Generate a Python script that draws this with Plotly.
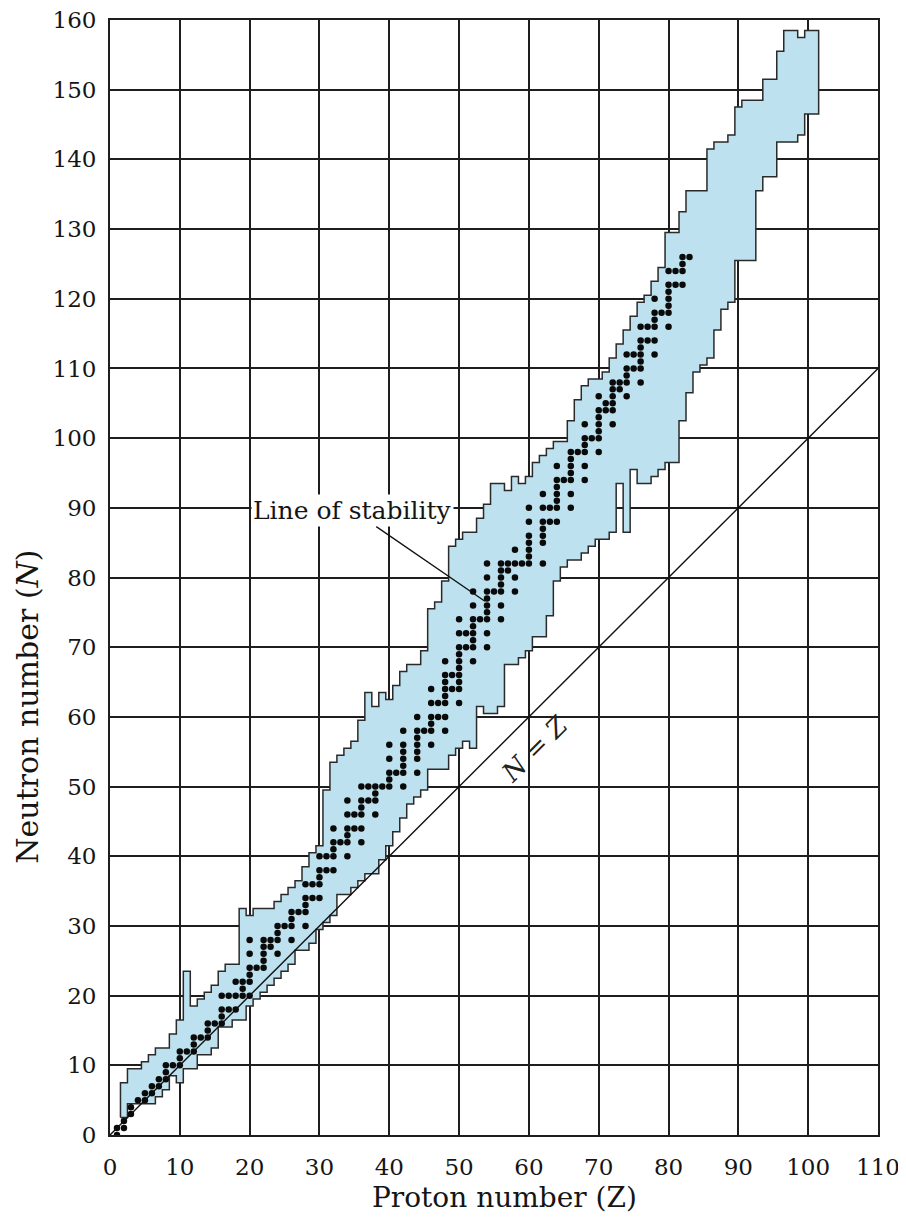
import plotly.graph_objects as go

# ---------------- data ----------------
# proton numbers of the band columns (region of known nuclei)
band_Z = list(range(2, 102))
# heaviest known neutron number for each Z column
band_Nmax = [7, 9, 9, 10, 11, 12, 12, 14, 16, 23,          # Z 2-11
             18, 19, 20, 21, 23, 24, 24, 32, 31, 32,       # Z 12-21
             32, 32, 33, 34, 35, 36, 38, 40, 41, 49,       # Z 22-31
             53, 54, 55, 56, 59, 63, 61, 63, 62, 64,       # Z 32-41
             66, 67, 67, 69, 75, 76, 79, 84, 85, 86,       # Z 42-51
             86, 88, 90, 93, 93, 92, 94, 93, 94, 96,       # Z 52-61
             97, 98, 99, 99, 102, 105, 107, 108, 108, 109,  # Z 62-71
             111, 113, 115, 117, 119, 120, 122, 124, 129, 129,  # Z 72-81
             132, 135, 135, 135, 141, 142, 142, 143, 147, 148,  # Z 82-91
             148, 148, 151, 151, 155, 158, 158, 157, 158, 158]  # Z 92-101
# lightest known neutron number for each Z column
band_Nmin = [3, 5, 5, 5, 5, 6, 7, 9, 8, 10,                # Z 2-11
             10, 12, 12, 13, 16, 16, 17, 17, 19, 20,       # Z 12-21
             21, 22, 23, 24, 25, 27, 27, 28, 30, 31,       # Z 22-31
             32, 35, 35, 36, 37, 38, 38, 40, 42, 44,       # Z 32-41
             46, 48, 49, 50, 53, 53, 53, 55, 56, 57,       # Z 42-51
             56, 62, 61, 61, 62, 68, 68, 69, 70, 72,       # Z 52-61
             72, 75, 80, 82, 83, 83, 84, 85, 86, 86,       # Z 62-71
             87, 94, 87, 96, 94, 94, 95, 96, 97, 97,       # Z 72-81
             103, 107, 110, 111, 112, 116, 119, 120, 126, 126,  # Z 82-91
             126, 136, 138, 138, 143, 143, 143, 144, 147, 147]  # Z 92-101

# stable nuclei (black dots): proton number and the neutron numbers of its stable isotopes
stable_Z = list(range(1, 84))
stable_N = [
    [0, 1], [1, 2], [3, 4], [5], [5, 6], [6, 7], [7, 8], [8, 9, 10], [10], [10, 11, 12],
    [12], [12, 13, 14], [14], [14, 15, 16], [16], [16, 17, 18, 20], [18, 20], [18, 20, 22],
    [20, 21, 22], [20, 22, 23, 24, 26, 28], [24], [24, 25, 26, 27, 28], [27, 28],
    [26, 28, 29, 30], [30], [28, 30, 31, 32], [32], [30, 32, 33, 34, 36], [34, 36],
    [34, 36, 37, 38, 40], [38, 40], [38, 40, 41, 42, 44], [42], [40, 42, 43, 44, 46, 48],
    [44, 46], [42, 44, 46, 47, 48, 50], [48, 50], [46, 48, 49, 50], [50],
    [50, 51, 52, 54, 56], [52], [50, 52, 53, 54, 55, 56, 58], [],
    [52, 54, 55, 56, 57, 58, 60], [58], [56, 58, 59, 60, 62, 64], [60, 62],
    [58, 60, 62, 63, 64, 65, 66, 68], [64, 66], [62, 64, 65, 66, 67, 68, 69, 70, 72, 74],
    [70, 72], [68, 70, 71, 72, 73, 74, 76, 78], [74], [70, 72, 74, 75, 76, 77, 78, 80, 82],
    [78], [74, 76, 78, 79, 80, 81, 82], [81, 82], [78, 80, 82, 84], [82],
    [82, 83, 84, 85, 86, 88, 90], [], [82, 85, 86, 87, 88, 90, 92], [88, 90],
    [88, 90, 91, 92, 93, 94, 96], [94], [90, 92, 94, 95, 96, 97, 98], [98],
    [94, 96, 98, 99, 100, 102], [100], [98, 100, 101, 102, 103, 104, 106], [104, 105],
    [102, 104, 105, 106, 107, 108], [107, 108], [106, 108, 109, 110, 112], [110, 112],
    [108, 110, 111, 112, 113, 114, 116], [114, 116], [112, 114, 116, 117, 118, 120], [118],
    [116, 118, 119, 120, 121, 122, 124], [122, 124], [122, 124, 125, 126], [126],
]

x_ticks = list(range(0, 111, 10))
y_ticks = list(range(0, 161, 10))
nz_line_Z = [0, 110]

SERIF = "DejaVu Serif, Liberation Serif, serif"

# ---------------- build the band outline from the columns ----------------
px, py = [], []
px.append(band_Z[0] - 0.5)
py.append(band_Nmin[0] - 0.5)
for z, nmx in zip(band_Z, band_Nmax):
    px += [z - 0.5, z + 0.5]
    py += [nmx + 0.5, nmx + 0.5]
for z, nmn in zip(reversed(band_Z), reversed(band_Nmin)):
    px += [z + 0.5, z - 0.5]
    py += [nmn - 0.5, nmn - 0.5]
px.append(px[0])
py.append(py[0])

dots_x, dots_y = [], []
for z, ns in zip(stable_Z, stable_N):
    for n in ns:
        dots_x.append(z)
        dots_y.append(n)

fig = go.Figure()
fig.add_trace(go.Scatter(
    x=px, y=py, mode="lines", fill="toself",
    fillcolor="#bde1ee", line=dict(color="#2a2a2a", width=1.5),
    hoverinfo="skip", showlegend=False))
fig.add_trace(go.Scatter(
    x=nz_line_Z, y=nz_line_Z, mode="lines",
    line=dict(color="#111111", width=1.4), showlegend=False))
fig.add_trace(go.Scatter(
    x=dots_x, y=dots_y, mode="markers",
    marker=dict(color="#0a0a0a", size=6.5, line=dict(width=0)),
    showlegend=False))

fig.add_annotation(
    x=53.7, y=76.6, ax=34.8, ay=89.6, axref="x", ayref="y",
    text="Line of stability", showarrow=True, arrowhead=0,
    arrowwidth=1.3, arrowcolor="#111111", bgcolor="white", borderpad=1,
    font=dict(family=SERIF, size=25, color="#151515"))
fig.add_annotation(
    x=60.8, y=55.4, text="<i>N</i> = <i>Z</i>", showarrow=False,
    textangle=-45, font=dict(family=SERIF, size=26, color="#222222"))

# axis titles (placed as in the reference, slightly off the axis centre)
fig.add_annotation(
    xref="paper", yref="paper", x=0.514, y=-0.0565, xanchor="center", yanchor="middle",
    text="Proton number (Z)", showarrow=False,
    font=dict(family=SERIF, size=28, color="#151515"))
fig.add_annotation(
    xref="paper", yref="paper", x=-0.107, y=0.384, xanchor="center", yanchor="middle",
    text="Neutron number (<i>N</i>)", showarrow=False, textangle=-90,
    font=dict(family=SERIF, size=30, color="#151515"))

axis_common = dict(
    showgrid=True, gridcolor="#1e1e1e", gridwidth=1.6,
    showline=True, linecolor="#1e1e1e", linewidth=1.8, mirror=True,
    zeroline=False, ticks="", tickfont=dict(family=SERIF, size=23, color="#151515"),
    automargin=False, ticklabeloverflow="allow",
)
fig.update_xaxes(range=[0, 110], tickvals=x_ticks, ticklabelstandoff=10, **axis_common)
fig.update_yaxes(range=[0, 160], tickvals=y_ticks, ticklabelstandoff=7, **axis_common)

# the page adds an 8 px body margin, so the figure is 8 px smaller on each axis
fig.update_layout(
    width=898, height=1209,
    margin=dict(l=102, r=28, t=12, b=82),
    paper_bgcolor="white", plot_bgcolor="white",
    showlegend=False,
)

fig.write_html("out.html")
